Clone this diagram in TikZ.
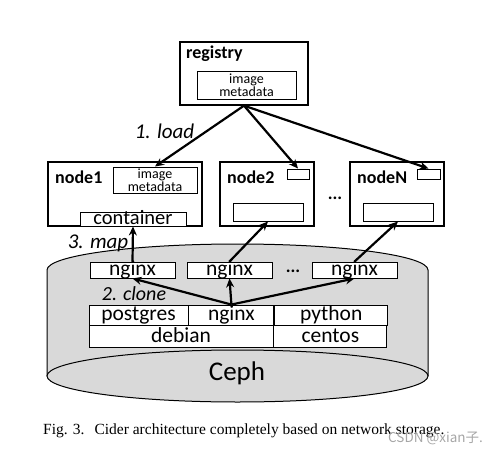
\documentclass[tikz,border=0pt]{standalone}
\usepackage{fontspec}
\setmainfont{Carlito}
\newfontfamily\capfont{Liberation Serif}
\newfontfamily\cjk{Noto Sans CJK SC}
\usetikzlibrary{positioning,arrows.meta}
\definecolor{cephgray}{RGB}{217,217,217}
\tikzset{outer box/.style={draw, line width=1.3pt, fill=white, inner sep=0pt}, }
\tikzset{meta box/.style={draw, line width=1pt, fill=white, inner sep=0pt, align=center, font=\fontsize{14}{12}\selectfont}, }
\tikzset{img box/.style={draw, line width=0.9pt, fill=white, inner sep=0pt, text height=12.9pt, text depth=1.7pt, font=\fontsize{21.5}{22}\selectfont}, }
\tikzset{empty box/.style={draw, line width=1pt, fill=white, inner sep=0pt}, }
\tikzset{host label/.style={anchor=base west, inner sep=0pt, font=\fontsize{18}{20}\selectfont\bfseries}, }
\tikzset{step label/.style={inner sep=0pt, font=\fontsize{21}{22}\selectfont\itshape}, }
\tikzset{flow/.style={-{Stealth[length=9pt,width=8pt]}, line width=2.2pt}, }

\begin{document}
\begin{tikzpicture}[x=1pt, y=-1pt]
	\useasboundingbox (0,0) rectangle (496,453);
	% ceph cylinder
	\path[fill=cephgray] (47,270) arc (180:360:190.5 and 26) -- (428,376) arc (0:180:190.5 and 26) -- cycle;
	\draw[line width=1pt] (47,376) -- (47,270) arc (180:360:190.5 and 26) -- (428,376);
	\draw[line width=1pt, fill=cephgray] (237.5,376) ellipse (190.5 and 26);
	\node[inner sep=0pt, font=\fontsize{27}{28}\selectfont] (ceph) at (237,373) {Ceph};

	% registry
	\node[outer box, minimum width=128pt, minimum height=63pt] (reg) at (244,73.5) {};
	\node[host label] (regname) at (186,58) {registry};
	\node[meta box, minimum width=99pt, minimum height=28pt] (regmeta) at (246.5,85) {image\\metadata};

	% hosts
	\node[outer box, minimum width=154pt, minimum height=64pt] (node1) at (125,194) {};
	\node[host label] (name1) at (55,183) {node1};
	\node[meta box, minimum width=84pt, minimum height=26pt] (meta1) at (155,180) {image\\metadata};
	\node[img box, minimum width=106pt, minimum height=14pt, text height=12pt, text depth=1pt, font=\fontsize{20.5}{22}\selectfont] (cont) at (133,219) {container};

	\node[outer box, minimum width=94pt, minimum height=64pt] (node2) at (267,194) {};
	\node[host label] (name2) at (227,183) {node2};
	\node[empty box, minimum width=22pt, minimum height=10pt] (tag2) at (298,174) {};
	\node[empty box, minimum width=70pt, minimum height=18pt] (slot2) at (268,212) {};

	\node[outer box, minimum width=94pt, minimum height=64pt] (nodeN) at (397,194) {};
	\node[host label] (nameN) at (357,183) {nodeN};
	\node[empty box, minimum width=23pt, minimum height=10pt] (tagN) at (428.5,174) {};
	\node[empty box, minimum width=70pt, minimum height=18pt] (slotN) at (398,212) {};

	\node[inner sep=0pt, font=\fontsize{18}{20}\selectfont\bfseries] (hostdots) at (335,198) {...};

	% cloned images
	\node[img box, minimum width=85pt, minimum height=16pt] (n1) at (132.5,270) {nginx};
	\node[img box, minimum width=85pt, minimum height=16pt] (n2) at (229.5,270) {nginx};
	\node[img box, minimum width=85pt, minimum height=16pt] (n3) at (354.5,270) {nginx};
	\node[inner sep=0pt, font=\fontsize{18}{20}\selectfont\bfseries] (clonedots) at (293,271) {...};

	% base images
	\node[img box, minimum width=99pt, minimum height=20pt] (pg) at (138.5,315) {postgres};
	\node[img box, minimum width=85pt, minimum height=20pt] (ng) [right=0pt of pg] {nginx};
	\node[img box, minimum width=113pt, minimum height=20pt] (py) [right=0pt of ng] {python};
	\node[img box, minimum width=184pt, minimum height=22pt] (deb) [below right=0pt and 0pt of pg.south west] {debian};
	\node[img box, minimum width=113pt, minimum height=22pt] (cent) [right=0pt of deb] {centos};

	% steps
	\draw[flow] (reg.south) -- (meta1.north);
	\draw[flow] (reg.south) -- (tag2.north);
	\draw[flow] (reg.south) -- (tagN.north);
	\draw[flow] (n1.north) -- (cont.south);
	\draw[flow] (n2.north) -- (slot2.south);
	\draw[flow] (n3.north) -- (slotN.south);
	\draw[flow] (ng.north) -- (n1.south);
	\draw[flow] (ng.north) -- (n2.south);
	\draw[flow] (ng.north) -- (n3.south);
	\node[step label] (load) at (164.5,131) {1. load};
	\node[step label] (map) at (98,243) {3. map};
	\node[step label, font=\fontsize{20}{22}\selectfont\itshape] (clone) at (134,293.5) {2. clone};

	% caption
	\node[anchor=base west, inner sep=0pt, font=\capfont\fontsize{15.5}{17}\selectfont] (caption) at (43,434) {Fig. 3.\hspace{10pt}Cider architecture completely based on network storage.};
	\node[anchor=base west, inner sep=0pt, text=black!35, font=\cjk\fontsize{13.5}{15}\selectfont] (mark) at (388,442) {CSDN @xian子.};
\end{tikzpicture}
\end{document}
